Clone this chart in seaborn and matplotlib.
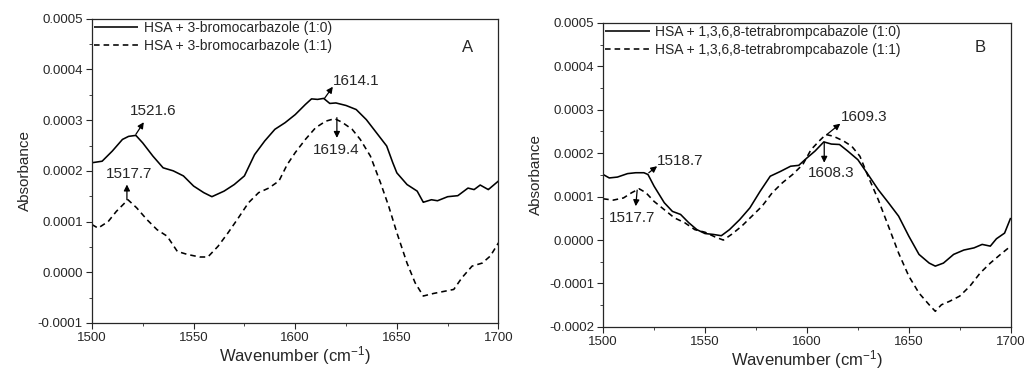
import numpy as np
import pandas as pd
import matplotlib
matplotlib.use("Agg")
import matplotlib.pyplot as plt
from matplotlib.ticker import FuncFormatter, MultipleLocator
import seaborn as sns

sns.set_style("ticks")
plt.rcParams['font.family'] = ['Liberation Sans', 'DejaVu Sans']
plt.rcParams['mathtext.fontset'] = 'custom'
plt.rcParams['mathtext.rm'] = 'Liberation Sans'
plt.rcParams['mathtext.default'] = 'regular'

# ---- data ----
a_solid_x = [1500, 1505, 1510, 1515, 1518, 1521.6, 1525, 1530, 1535, 1540, 1545, 1550, 1555, 1559,
             1565, 1570, 1575, 1580, 1585, 1590, 1595, 1600, 1605, 1608, 1611, 1614, 1617, 1620,
             1625, 1630, 1635, 1640, 1645, 1648, 1650, 1655, 1660, 1663, 1667, 1670, 1675, 1680,
             1685, 1688, 1691, 1695, 1700]
a_solid_y = [0.000216, 0.000219, 0.000239, 0.000262, 0.000268, 0.000270, 0.000255, 0.000229,
             0.000206, 0.000200, 0.000190, 0.000170, 0.000157, 0.000149, 0.000160, 0.000173,
             0.000190, 0.000232, 0.000259, 0.000282, 0.000295, 0.000311, 0.000331, 0.000342,
             0.000341, 0.000343, 0.000333, 0.000334, 0.000329, 0.000321, 0.000301, 0.000275,
             0.000249, 0.000216, 0.000196, 0.000173, 0.000160, 0.000138, 0.000143, 0.000141,
             0.000149, 0.000151, 0.000166, 0.000163, 0.000172, 0.000163, 0.000180]

a_dash_x = [1500, 1503, 1508, 1512, 1517.7, 1522, 1527, 1532, 1537, 1542, 1547, 1553, 1557, 1562,
            1567, 1572, 1577, 1582, 1587, 1592, 1596, 1600, 1605, 1610, 1615, 1619.4, 1623, 1628,
            1632, 1637, 1642, 1646, 1650, 1655, 1659, 1663, 1668, 1673, 1678, 1682, 1687, 1692,
            1696, 1700]
a_dash_y = [0.000094, 0.000087, 0.000100, 0.000120, 0.000143, 0.000127, 0.000104, 0.000084,
            0.000071, 0.000041, 0.000035, 0.000030, 0.000030, 0.000051, 0.000078, 0.000107,
            0.000137, 0.000157, 0.000166, 0.000180, 0.000212, 0.000236, 0.000262, 0.000285,
            0.000298, 0.000303, 0.000296, 0.000282, 0.000262, 0.000229, 0.000176, 0.000130,
            0.000078, 0.000018, -0.000021, -0.000047, -0.000042, -0.000038, -0.000034,
            -0.000011, 0.000012, 0.000018, 0.000032, 0.000058]

b_solid_x = [1500, 1503, 1507, 1512, 1516, 1520, 1522, 1525, 1530, 1534, 1538, 1542, 1546, 1550,
             1554, 1558, 1562, 1567, 1572, 1577, 1582, 1587, 1592, 1596, 1600, 1604, 1608.3, 1612,
             1616, 1620, 1625, 1630, 1635, 1640, 1645, 1650, 1655, 1660, 1663, 1667, 1672, 1677,
             1682, 1686, 1690, 1693, 1697, 1700]
b_solid_y = [0.000151, 0.000143, 0.000145, 0.000153, 0.000155, 0.000155, 0.000151, 0.000124,
             0.000086, 0.000066, 0.000059, 0.000040, 0.000024, 0.000015, 0.000013, 0.000010,
             0.000024, 0.000047, 0.000074, 0.000112, 0.000147, 0.000158, 0.000170, 0.000172,
             0.000189, 0.000205, 0.000226, 0.000221, 0.000220, 0.000205, 0.000185, 0.000151,
             0.000116, 0.000086, 0.000055, 0.000009, -0.000033, -0.000053, -0.000060,
             -0.000053, -0.000033, -0.000023, -0.000018, -0.000010, -0.000014, 0.000003,
             0.000016, 0.000051]

b_dash_x = [1500, 1505, 1510, 1514, 1517.7, 1521, 1525, 1530, 1535, 1540, 1545, 1550, 1555, 1559,
            1563, 1568, 1573, 1578, 1583, 1588, 1593, 1598, 1602, 1606, 1609.3, 1613, 1618, 1622,
            1626, 1630, 1635, 1640, 1645, 1650, 1655, 1660, 1663, 1666, 1670, 1675, 1680, 1685,
            1690, 1695, 1700]
b_dash_y = [0.000095, 0.000092, 0.000097, 0.000109, 0.000118, 0.000109, 0.000089, 0.000070,
            0.000051, 0.000040, 0.000024, 0.000018, 0.000007, 0.000000, 0.000013, 0.000032,
            0.000055, 0.000078, 0.000109, 0.000132, 0.000151, 0.000174, 0.000208, 0.000228,
            0.000243, 0.000239, 0.000228, 0.000216, 0.000193, 0.000147, 0.000093, 0.000032,
            -0.000030, -0.000083, -0.000122, -0.000149, -0.000164, -0.000149, -0.000141,
            -0.000129, -0.000106, -0.000076, -0.000053, -0.000033, -0.000014]

labels_a = ['HSA + 3-bromocarbazole (1:0)', 'HSA + 3-bromocarbazole (1:1)']
labels_b = ['HSA + 1,3,6,8-tetrabrompcabazole (1:0)', 'HSA + 1,3,6,8-tetrabrompcabazole (1:1)']

# peak labels: (text, peak x, peak y, arrow end x, arrow end y, text x, text y)
peaks_a = [('1521.6', 1521.6, 0.000272, 1525.5, 0.000296, 1530, 0.000318),
           ('1614.1', 1614.4, 0.000343, 1618.5, 0.000366, 1630, 0.000377),
           ('1619.4', 1620.5, 0.000305, 1620.5, 0.000265, 1620, 0.000242),
           ('1517.7', 1517.2, 0.000143, 1517.2, 0.000173, 1518.5, 0.000193)]
peaks_b = [('1518.7', 1522.4, 0.000155, 1526.5, 0.000170, 1538, 0.000181),
           ('1517.7', 1516.7, 0.000115, 1516, 0.000078, 1514, 0.000050),
           ('1609.3', 1609.8, 0.000243, 1616.4, 0.000268, 1628, 0.000284),
           ('1608.3', 1608.5, 0.000225, 1608.5, 0.000178, 1612, 0.000155)]


def make_df(xs1, ys1, xs2, ys2, labels):
    d1 = pd.DataFrame({'x': xs1, 'y': ys1, 'series': labels[0]})
    d2 = pd.DataFrame({'x': xs2, 'y': ys2, 'series': labels[1]})
    return pd.concat([d1, d2], ignore_index=True)


def fmt(v, pos):
    if abs(v) < 1e-9:
        v = 0.0
    return f"{v:.4f}"


def draw_panel(ax, df, labels, peaks, letter, ylim):
    sns.lineplot(data=df, x='x', y='y', hue='series', style='series',
                 palette=['black', 'black'], dashes=[(1, 0), (3.5, 2.5)],
                 linewidth=1.15, ax=ax, sort=False)
    ax.set_xlim(1500, 1700)
    ax.set_ylim(*ylim)
    ax.xaxis.set_major_locator(MultipleLocator(50))
    ax.xaxis.set_minor_locator(MultipleLocator(25))
    ax.yaxis.set_major_locator(MultipleLocator(0.0001))
    ax.yaxis.set_minor_locator(MultipleLocator(0.00005))
    ax.yaxis.set_major_formatter(FuncFormatter(fmt))
    ax.tick_params(which='major', direction='out', length=4, labelsize=9.5, pad=2.5)
    ax.tick_params(which='minor', direction='out', length=2.5)
    for s in ax.spines.values():
        s.set_linewidth(0.9)
    ax.set_xlabel('Wavenumber (cm$^{-1}$)', fontsize=12, labelpad=0)
    ax.set_ylabel('Absorbance', fontsize=11)
    leg = ax.legend(loc='upper left', frameon=False, fontsize=10, handlelength=3.2,
                    borderaxespad=0.05, borderpad=0.1, labelspacing=0.3, handletextpad=0.4)
    leg.set_title(None)
    ax.text(1685, ylim[1] - 0.0000575, letter, fontsize=12, ha='center', va='center')
    for txt, px, py, ex, ey, tx, ty in peaks:
        ax.annotate('', xy=(ex, ey), xytext=(px, py),
                    arrowprops=dict(arrowstyle='-|>', color='black', lw=0.9,
                                    mutation_scale=9, shrinkA=0, shrinkB=0))
        ax.text(tx, ty, txt, fontsize=11, ha='center', va='center')


fig = plt.figure(figsize=(10.24, 3.69), dpi=100)
ax1 = fig.add_axes([0.0898, 0.125, 0.397, 0.824])
ax2 = fig.add_axes([0.589, 0.114, 0.398, 0.824])

draw_panel(ax1, make_df(a_solid_x, a_solid_y, a_dash_x, a_dash_y, labels_a),
           labels_a, peaks_a, 'A', (-0.0001, 0.0005))
draw_panel(ax2, make_df(b_solid_x, b_solid_y, b_dash_x, b_dash_y, labels_b),
           labels_b, peaks_b, 'B', (-0.0002, 0.0005))

fig.savefig('out.png', dpi=100)
